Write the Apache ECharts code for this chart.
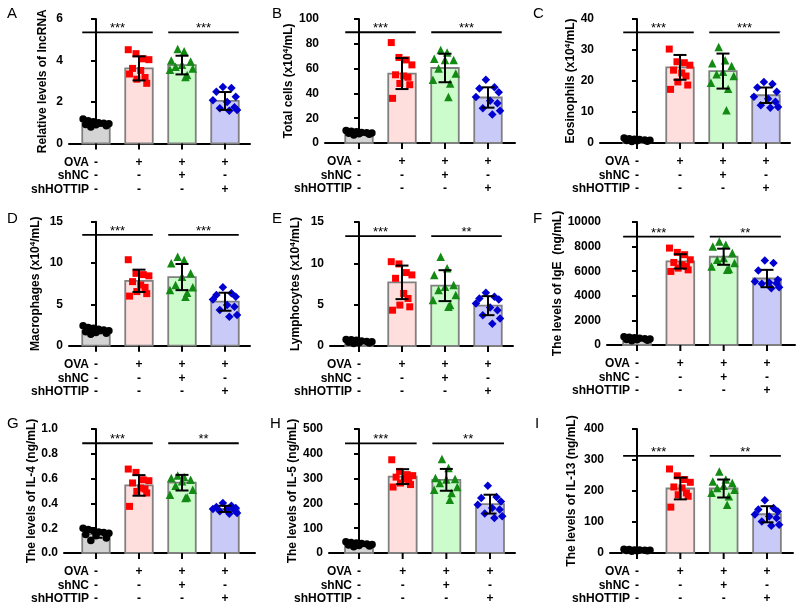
<!DOCTYPE html>
<html><head><meta charset="utf-8">
<script src="https://cdn.jsdelivr.net/npm/echarts@6/dist/echarts.min.js"></script>
<style>html,body{margin:0;padding:0;background:#fff}#c{width:800px;height:610px}</style>
</head><body><div id="c"></div>
<script>
// ---------- data ----------
const GROUPS = ['Control', 'OVA', 'OVA+shNC', 'OVA+shHOTTIP'];
const ROW_NAMES = ['OVA', 'shNC', 'shHOTTIP'];
const OVA = ['-', '+', '+', '+'];
const shNC = ['-', '-', '+', '-'];
const shHOTTIP = ['-', '-', '-', '+'];
const LETTERS = ['A','B','C','D','E','F','G','H','I'];
const Y_TITLES = [
  'Relative levels of lncRNA',
  'Total cells (x10{sup|4}/mL)',
  'Eosinophils (x10{sup|4}/mL)',
  'Macrophages (x10{sup|4}/mL)',
  'Lymphocytes (x10{sup|4}/mL)',
  'The levels of IgE  (ng/mL)',
  'The levels of IL-4 (ng/mL)',
  'The levels of IL-5 (ng/mL)',
  'The levels of IL-13 (ng/mL)'
];
const Y_MAX = [6, 100, 40, 15, 15, 10000, 1, 500, 400];
const Y_STEP = [2, 20, 10, 5, 5, 2000, 0.2, 100, 100];

const A_mean = [0.95, 3.62, 3.78, 2.05];
const A_sd = [0.1, 0.58, 0.45, 0.43];
const A_pts = [
  [1.18, 1.1, 1.05, 1.0, 0.98, 0.95, 0.92, 0.9, 0.85, 0.8],
  [4.52, 4.33, 4.08, 4.04, 3.62, 3.52, 3.18, 3.1, 2.9, 3.35],
  [4.55, 4.45, 4.0, 3.95, 3.8, 3.7, 3.62, 3.55, 3.3, 3.2],
  [2.72, 2.68, 2.5, 2.25, 2.08, 2.0, 1.75, 1.7, 1.62, 1.58]
];
const B_mean = [8, 56, 60.5, 36.7];
const B_sd = [1, 12.5, 11.5, 8.2];
const B_pts = [
  [10, 9.5, 9, 8.5, 8.2, 8, 7.8, 7.5, 7, 6.5],
  [81, 69, 67, 63, 55, 54, 53, 48, 47, 36],
  [75, 73, 68, 67, 67, 60, 56, 51, 48, 37],
  [51, 45, 44, 41, 37, 34, 32, 28, 26, 23]
];
const C_mean = [1.0, 24.4, 23.2, 15.4];
const C_sd = [0.3, 4.0, 5.65, 2.5];
const C_pts = [
  [1.6, 1.4, 1.2, 1.1, 1.0, 0.9, 0.8, 0.7, 0.6, 0.5],
  [30.3, 26.2, 25.9, 25.1, 23.5, 22.6, 21.6, 19.7, 18.7, 17.3],
  [31, 26.7, 25.7, 24.8, 23, 22.2, 21.6, 19.4, 17.5, 10.6],
  [19.7, 19, 17.9, 16.5, 14.9, 14.3, 13.3, 12.2, 11.6, 11.4]
];
const D_mean = [1.8, 7.85, 8.3, 5.32];
const D_sd = [0.3, 1.35, 1.58, 1.09];
const D_pts = [
  [2.4, 2.2, 2.1, 2.0, 1.9, 1.8, 1.7, 1.6, 1.5, 1.4],
  [10.4, 8.75, 8.6, 8.45, 7.75, 7.35, 7.05, 6.55, 6.3, 6.0],
  [10.77, 10.36, 9.96, 8.75, 8.35, 7.34, 7.06, 6.73, 6.41, 5.93],
  [7.06, 6.33, 6.13, 5.93, 5.6, 4.92, 4.72, 4.31, 3.71, 3.5]
];
const E_mean = [0.55, 7.7, 7.3, 4.88];
const E_sd = [0.15, 2.03, 1.87, 1.15];
const E_pts = [
  [0.8, 0.75, 0.7, 0.6, 0.55, 0.5, 0.45, 0.4, 0.35, 0.3],
  [10.2, 9.93, 8.88, 8.6, 8.19, 6.36, 5.75, 4.95, 4.74, 4.33],
  [10.8, 9.4, 8.6, 7.38, 7.17, 6.77, 6.16, 5.55, 4.95, 4.74],
  [6.45, 5.96, 5.76, 5.63, 5.15, 4.66, 4.33, 3.73, 3.32, 2.7]
];
const F_mean = [500, 6800, 7175, 5405];
const F_sd = [100, 585, 655, 705];
const F_pts = [
  [680, 620, 580, 540, 500, 480, 450, 420, 380, 350],
  [7880, 7530, 7340, 6930, 6710, 6520, 6390, 6250, 6110, 5980],
  [8420, 8150, 8010, 7470, 7070, 6930, 6660, 6390, 6170, 6110],
  [6880, 6660, 6060, 5300, 5160, 5080, 5030, 4970, 4700, 4620]
];
const G_mean = [0.153, 0.545, 0.567, 0.356];
const G_sd = [0.03, 0.083, 0.063, 0.025];
const G_pts = [
  [0.2, 0.19, 0.18, 0.17, 0.165, 0.16, 0.15, 0.14, 0.12, 0.1],
  [0.677, 0.65, 0.59, 0.583, 0.565, 0.524, 0.516, 0.497, 0.484, 0.376],
  [0.624, 0.613, 0.605, 0.59, 0.578, 0.543, 0.51, 0.47, 0.449, 0.444],
  [0.403, 0.382, 0.371, 0.363, 0.355, 0.35, 0.344, 0.336, 0.323, 0.317]
];
const H_mean = [35, 308, 295, 197];
const H_sd = [7, 30, 44, 38];
const H_pts = [
  [45, 42, 40, 38, 36, 34, 32, 30, 28, 25],
  [376, 329, 316, 312, 306, 298, 289, 282, 276, 266],
  [379, 343, 302, 298, 296, 282, 266, 255, 242, 215],
  [271, 226, 222, 208, 195, 181, 175, 159, 148, 141]
];
const I_mean = [8, 208, 208, 125];
const I_sd = [2, 35, 29, 26];
const I_pts = [
  [12, 11, 10, 9.5, 9, 8.5, 8, 7.5, 7, 6],
  [271, 249, 237, 228, 213, 210, 194, 188, 183, 148],
  [263, 237, 231, 226, 217, 210, 204, 194, 183, 156],
  [170, 145, 140, 134, 124, 118, 113, 102, 91, 88]
];
// significance bar heights (data units) and labels
const SIG_Y = [5.36, 89.3, 35.7, 13.4, 13.3, 8805, 0.885, 442, 313];
const SIG_L = [
  ['***','***'], ['***','***'], ['***','***'],
  ['***','***'], ['***','**'], ['***','**'],
  ['***','**'], ['***','**'], ['***','**']
];
// horizontal scatter of the dots inside each group
const JITTER = [
  [-0.3, -0.18, -0.06, 0.06, 0.18, 0.3, -0.24, 0.0, 0.24, -0.12],
  [-0.25, -0.07, 0.1, 0.23, -0.15, 0.04, 0.14, -0.05, 0.18, -0.22],
  [-0.1, 0.05, -0.25, 0.2, 0.0, -0.15, 0.25, -0.28, 0.12, 0.08],
  [-0.05, 0.15, -0.2, 0.25, -0.28, 0.05, 0.22, -0.12, 0.28, 0.1]
];

const MEANS = [A_mean, B_mean, C_mean, D_mean, E_mean, F_mean, G_mean, H_mean, I_mean];
const SDS = [A_sd, B_sd, C_sd, D_sd, E_sd, F_sd, G_sd, H_sd, I_sd];
const PTS = [A_pts, B_pts, C_pts, D_pts, E_pts, F_pts, G_pts, H_pts, I_pts];

// ---------- layout / style ----------
const LAYOUT = [
  {ax:69, end:250, top:19, bot:143.5, c0:96, c3:225, gap:20, lx:7, ly:6},
  {ax:325, end:515, top:19, bot:143, c0:359, c3:488, gap:26, lx:272, ly:6},
  {ax:600, end:790, top:19, bot:143, c0:637, c3:766, gap:17, lx:533, ly:6},
  {ax:69, end:250, top:221.7, bot:345.7, c0:96, c3:225, gap:26, lx:7, ly:211},
  {ax:330, end:513, top:222, bot:346, c0:359, c3:488, gap:27, lx:272, ly:211},
  {ax:607, end:795, top:222, bot:345, c0:637, c3:767, gap:43, lx:533, ly:211},
  {ax:64, end:255, top:429, bot:553, c0:96, c3:225, gap:26, lx:7, ly:416},
  {ax:329, end:515, top:429, bot:553, c0:359, c3:490, gap:28, lx:270, ly:416},
  {ax:610, end:793, top:429, bot:553, c0:637, c3:767, gap:32, lx:535, ly:416}
];
const FONT = '"Liberation Sans", Arial, sans-serif';
const FILL = ['#d4d4d4', '#ffdede', '#ccfccc', '#cacaf9'];
const MARK_COLOR = ['#000000', '#ff0000', '#138a13', '#0000d0'];
const MARK_SYMBOL = ['circle', 'rect', 'triangle', 'diamond'];
const MARK_SIZE = [7.5, 7, 8.5, 8.5];
const BW = 0.32;
const ROW_DY = [19, 32.5, 46];

const grids = [], xAxes = [], yAxes = [], series = [], graphics = [];

LAYOUT.forEach((L, p) => {
  const unit = (L.c3 - L.c0) / 3;
  grids.push({left: L.ax, top: L.top, width: L.end - L.ax, height: L.bot - L.top});
  xAxes.push({
    type: 'value', gridIndex: p,
    min: (L.ax - L.c0) / unit, max: (L.end - L.c0) / unit,
    axisLine: {show: true, onZero: false, lineStyle: {color: '#000', width: 2}},
    axisTick: {show: false}, axisLabel: {show: false}, splitLine: {show: false}
  });
  yAxes.push({
    type: 'value', gridIndex: p, min: 0, max: Y_MAX[p], interval: Y_STEP[p],
    name: Y_TITLES[p], nameLocation: 'middle', nameGap: L.gap, nameRotate: 90,
    nameTextStyle: {fontFamily: FONT, fontWeight: 'bold', fontSize: 12, color: '#000',
      rich: {sup: {fontFamily: FONT, fontWeight: 'bold', fontSize: 8, color: '#000', verticalAlign: 'top', lineHeight: 14}}},
    axisLine: {show: true, lineStyle: {color: '#000', width: 2}},
    axisTick: {show: true, length: 5, lineStyle: {color: '#000', width: 2}},
    axisLabel: {fontFamily: FONT, fontWeight: 'bold', fontSize: 12, color: '#000', margin: 6,
      formatter: v => (Y_STEP[p] < 1 ? v.toFixed(1) : String(v))},
    splitLine: {show: false}
  });

  const means = MEANS[p], sds = SDS[p], pts = PTS[p];
  // bars
  series.push({
    type: 'custom', xAxisIndex: p, yAxisIndex: p, z: 1, silent: true,
    data: means.map((m, i) => [i, m]),
    renderItem: (params, api) => {
      const i = api.value(0), m = api.value(1);
      const a = api.coord([i - BW, m]), b = api.coord([i + BW, 0]);
      return {type: 'rect', shape: {x: a[0], y: a[1], width: b[0] - a[0], height: b[1] - a[1]},
        style: {fill: FILL[i], stroke: '#808080', lineWidth: 1.8}};
    }
  });
  // dots
  pts.forEach((arr, g) => {
    series.push({
      type: 'scatter', xAxisIndex: p, yAxisIndex: p, z: 2, silent: true,
      symbol: MARK_SYMBOL[g], symbolSize: MARK_SIZE[g],
      itemStyle: {color: MARK_COLOR[g], opacity: 1},
      data: arr.map((v, k) => [g + JITTER[g][k], v])
    });
  });
  // error bars
  series.push({
    type: 'custom', xAxisIndex: p, yAxisIndex: p, z: 3, silent: true,
    data: means.map((m, i) => [i, m, sds[i]]),
    renderItem: (params, api) => {
      const i = api.value(0), m = api.value(1), s = api.value(2);
      const t = api.coord([i, m + s]), b = api.coord([i, m - s]);
      const cw = 6.5, st = {stroke: '#000', lineWidth: 2};
      return {type: 'group', children: [
        {type: 'line', shape: {x1: t[0], y1: t[1], x2: b[0], y2: b[1]}, style: st},
        {type: 'line', shape: {x1: t[0] - cw, y1: t[1], x2: t[0] + cw, y2: t[1]}, style: st},
        {type: 'line', shape: {x1: b[0] - cw, y1: b[1], x2: b[0] + cw, y2: b[1]}, style: st}
      ]};
    }
  });
  // significance lines
  series.push({
    type: 'custom', xAxisIndex: p, yAxisIndex: p, z: 4, silent: true, clip: false,
    data: [[0, 1, SIG_Y[p]], [2, 3, SIG_Y[p]]],
    renderItem: (params, api) => {
      const a = api.coord([api.value(0) - BW, api.value(2)]);
      const b = api.coord([api.value(1) + BW, api.value(2)]);
      return {type: 'group', children: [
        {type: 'line', shape: {x1: a[0], y1: a[1], x2: b[0], y2: b[1]}, style: {stroke: '#000', lineWidth: 1.8}},
        {type: 'text', x: (a[0] + b[0]) / 2, y: a[1] + 3,
          style: {text: SIG_L[p][params.dataIndex], fontFamily: FONT, fontSize: 13, fill: '#000',
            align: 'center', verticalAlign: 'bottom'}}
      ]};
    }
  });
  // x ticks + treatment table
  series.push({
    type: 'custom', xAxisIndex: p, yAxisIndex: p, z: 4, silent: true, clip: false,
    data: [0, 1, 2, 3].map(i => [i, 0]),
    renderItem: (params, api) => {
      const i = api.value(0);
      const c = api.coord([i, 0]);
      const signs = [OVA[i], shNC[i], shHOTTIP[i]];
      const kids = [{type: 'line', shape: {x1: c[0], y1: c[1], x2: c[0], y2: c[1] + 6},
        style: {stroke: '#000', lineWidth: 2}}];
      signs.forEach((s, r) => kids.push({type: 'text', x: c[0], y: c[1] + ROW_DY[r],
        style: {text: s, fontFamily: FONT, fontWeight: 'bold', fontSize: 12, fill: '#000',
          align: 'center', verticalAlign: 'middle'}}));
      if (i === 0) {
        ROW_NAMES.forEach((n, r) => kids.push({type: 'text', x: c[0] - 7, y: c[1] + ROW_DY[r],
          style: {text: n, fontFamily: FONT, fontWeight: 'bold', fontSize: 12, fill: '#000',
            align: 'right', verticalAlign: 'middle'}}));
      }
      return {type: 'group', children: kids};
    }
  });
  graphics.push({type: 'text', left: L.lx, top: L.ly,
    style: {text: LETTERS[p], fontFamily: FONT, fontSize: 15, fill: '#000'}});
});

const chart = echarts.init(document.getElementById('c'), null, {renderer: 'canvas'});
chart.setOption({
  animation: false,
  backgroundColor: '#fff',
  grid: grids, xAxis: xAxes, yAxis: yAxes, series: series, graphic: graphics
});
</script>
</body></html>
